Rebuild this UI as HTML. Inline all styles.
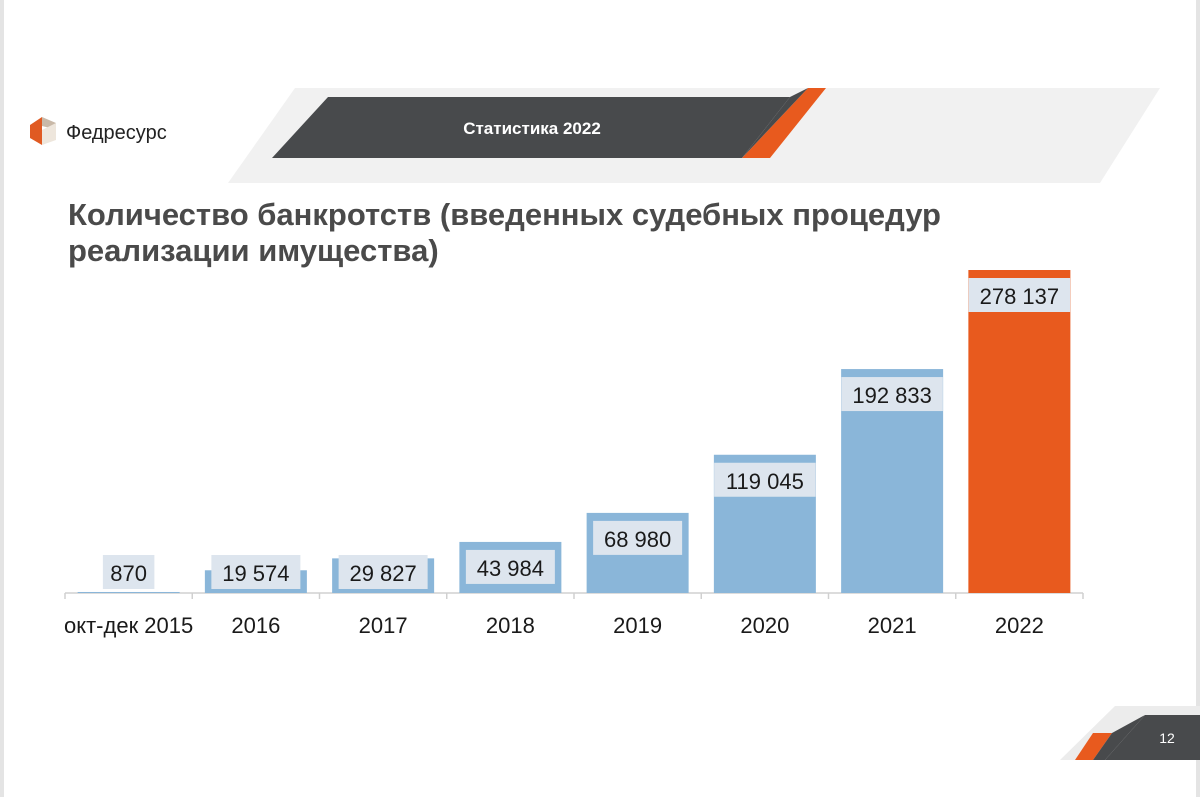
<!DOCTYPE html>
<html><head><meta charset="utf-8"><style>
body{margin:0;width:1200px;height:797px;background:#fff;overflow:hidden;font-family:"Liberation Sans","DejaVu Sans",sans-serif;position:relative}
</style></head><body>
<svg width="1200" height="797" style="position:absolute;left:0;top:0">
  <rect x="0" y="0" width="4" height="797" fill="#e4e4e4"/>
  <rect x="1196" y="0" width="4" height="797" fill="#e4e4e4"/>
  <g>
    <polygon points="30,125 42,117 42,145 30,138" fill="#e05a22"/>
    <polygon points="42,117 56,123 50,128 42,126" fill="#c9b9a8"/>
    <polygon points="42,130 56,123 56,140 42,145" fill="#eee6dc"/>
    <text x="66" y="139" font-size="20" fill="#222" font-family="Liberation Sans, DejaVu Sans, sans-serif">Федресурс</text>
  </g>
  <g>
    <polygon points="295,88 1160,88 1100,183 228,183" fill="#f1f1f1"/>
    <polygon points="328,97 790,97 742,158 272,158" fill="#484a4c"/>
    <polygon points="808,88 826,88 770,158 742,158" fill="#e85a1e"/>
    <polygon points="790,97 808,88 742,158 742,158" fill="#484a4c"/>
    <text x="532" y="134" font-size="17" font-weight="bold" fill="#fff" text-anchor="middle">Статистика 2022</text>
  </g>
  <g font-size="31" font-weight="bold" fill="#4a4a4a">
    <text x="68" y="225">Количество банкротств (введенных судебных процедур</text>
    <text x="68" y="261">реализации имущества)</text>
  </g>
  <g id="chart"></g>
  <g>
    <polygon points="1115,706 1200,706 1200,760 1060,760" fill="#ececec"/>
    <polygon points="1145,715 1200,715 1200,760 1105,760" fill="#484a4c"/>
    <polygon points="1093,733 1112,733 1093,760 1075,760" fill="#e85a1e"/>
    <polygon points="1112,733 1145,715 1105,760 1093,760" fill="#484a4c"/>
    <text x="1167" y="743" font-size="14" fill="#fff" text-anchor="middle">12</text>
  </g>
</svg>
<script>
const categories=["окт-дек 2015","2016","2017","2018","2019","2020","2021","2022"];
const values=[870,19574,29827,43984,68980,119045,192833,278137];
const valueLabels=["870","19 574","29 827","43 984","68 980","119 045","192 833","278 137"];
const ns="http://www.w3.org/2000/svg";
const g=document.getElementById('chart');
const x0=65,x1=1083,base=593,maxV=278137,maxH=323;
const band=(x1-x0)/categories.length;
const xPos=i=>x0+band*i;
const yScale=v=>base-v/maxV*maxH;
function mk(t,a){const e=document.createElementNS(ns,t);for(const k in a)e.setAttribute(k,a[k]);g.appendChild(e);return e;}
const axis=mk('line',{x1:x0,y1:base,x2:x1,y2:base,stroke:'#d0d0d0','stroke-width':1.5});


for(let i=0;i<=categories.length;i++){
  const t=mk('line',{x1:xPos(i),y1:base,x2:xPos(i),y2:base+6,stroke:'#d0d0d0','stroke-width':1.5});
  
  
}
values.forEach((v,i)=>{
  const bw=102,bx=xPos(i)+(band-bw)/2,top=yScale(v);
  const last=i===values.length-1;
  const r=mk('rect',{x:bx,y:top,width:bw,height:base-top,fill:last?'#e85a1e':'#8ab6d9'});
  
  
  const ly=Math.min(top+8,555);
  const cx=xPos(i)+band/2;
  const w=valueLabels[i].length*12.5+14;
  const lb=mk('rect',{x:cx-w/2,y:ly,width:w,height:34,fill:'#dde5ee'});
  
  
  const tx=mk('text',{x:cx,y:ly+26,'font-size':22,fill:'#1a1a1a','text-anchor':'middle'});
  tx.textContent=valueLabels[i];
  
  
  const cl=mk('text',{x:cx,y:633,'font-size':22,fill:'#1a1a1a','text-anchor':'middle'});
  cl.textContent=categories[i];
  
  
});
</script>
</body></html>
